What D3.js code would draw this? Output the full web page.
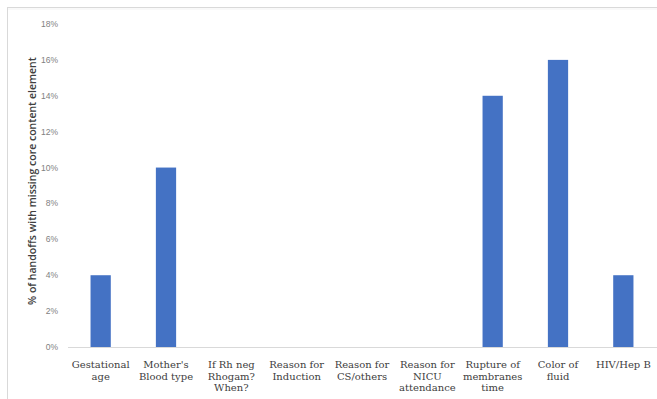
<!DOCTYPE html>
<html>
<head>
<meta charset="utf-8">
<script src="https://cdn.jsdelivr.net/npm/d3@7"></script>
<style>
  body { margin: 0; background: #fff; }
  svg { display: block; }
</style>
</head>
<body>
<div id="chart"></div>
<script>
const categories = [
  ['Gestational', 'age'],
  ["Mother's", 'Blood type'],
  ['If Rh neg', 'Rhogam?', 'When?'],
  ['Reason for', 'Induction'],
  ['Reason for', 'CS/others'],
  ['Reason for', 'NICU', 'attendance'],
  ['Rupture of', 'membranes', 'time'],
  ['Color of', 'fluid'],
  ['HIV/Hep B']
];
const values = [4, 10, 0, 0, 0, 0, 14, 16, 4];
const yTicks = [0, 2, 4, 6, 8, 10, 12, 14, 16, 18];
const yTitle = '% of handoffs with missing core content element';

const W = 657, H = 399;
const svg = d3.select('#chart').append('svg')
  .attr('width', W)
  .attr('height', H);

// frame of the pasted chart
svg.append('rect')
  .attr('x', 7.5).attr('y', 7.5)
  .attr('width', W + 10).attr('height', H + 10)
  .attr('fill', '#fff')
  .attr('stroke', '#d9d9d9');
svg.append('line')
  .attr('x1', 8).attr('x2', W).attr('y1', 9).attr('y2', 9)
  .attr('stroke', '#f3f3f3');

const ids = categories.map((c, i) => i);
const x = d3.scaleBand().domain(ids).range([68, 656])
  .paddingInner(0.69).paddingOuter(0.345);
const y = d3.scaleLinear().domain([0, 18]).range([347, 24]);

// y tick labels
svg.append('g')
  .selectAll('text')
  .data(yTicks)
  .enter()
  .append('text')
  .attr('x', 58)
  .attr('y', d => y(d))
  .attr('dy', '0.35em')
  .attr('text-anchor', 'end')
  .style('font-family', '"Liberation Sans", Arial, sans-serif')
  .attr('font-size', 8.5)
  .attr('fill', '#7f7f7f')
  .text(d => d + '%');

// bars
svg.selectAll('.bar')
  .data(values)
  .enter()
  .append('rect')
  .attr('class', 'bar')
  .attr('x', (d, i) => x(i))
  .attr('width', x.bandwidth())
  .attr('y', d => y(d))
  .attr('height', d => y(0) - y(d))
  .attr('fill', '#4472c4');

// baseline
svg.append('line')
  .attr('x1', 68).attr('x2', W)
  .attr('y1', y(0) + 0.5).attr('y2', y(0) + 0.5)
  .attr('stroke', '#d9d9d9');

// category labels
const lab = svg.append('g')
  .selectAll('text')
  .data(categories)
  .enter()
  .append('text')
  .attr('text-anchor', 'middle')
  .style('font-family', '"DejaVu Serif", "Liberation Serif", serif')
  .attr('font-size', 10)
  .attr('fill', '#404040')
  .attr('transform', (d, i) => `translate(${x(i) + x.bandwidth() / 2},0)`);
lab.selectAll('tspan')
  .data(d => d)
  .enter()
  .append('tspan')
  .attr('x', 0)
  .attr('y', (d, j) => 368 + j * 11.7)
  .text(d => d);

// y axis title
svg.append('text')
  .attr('transform', `translate(36,181) rotate(-90)`)
  .attr('text-anchor', 'middle')
  .style('font-family', '"Open Sans", "Liberation Sans", sans-serif')
  .attr('font-size', 10.5)
  .attr('font-weight', 600)
  .attr('fill', '#404040')
  .text(yTitle);
</script>
</body>
</html>
